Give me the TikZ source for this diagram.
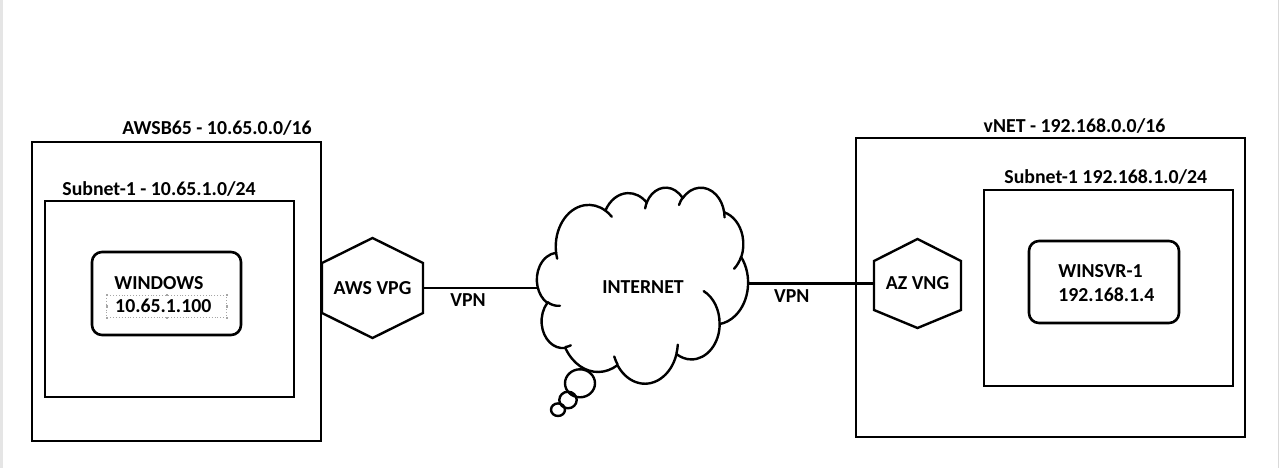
\documentclass[tikz,border=0pt]{standalone}
\usepackage{fontspec}
\setmainfont{Carlito}
\newcommand\labfont{\fontsize{19.8}{23}\selectfont\bfseries}
\begin{document}
\begin{tikzpicture}[x=1pt,y=-1pt,
  declare function={cvis(\p,\q,\r)=\p+mod(atan2(\q*sin(\p),\r*cos(\p))-\p+900,360)-180;},
  box/.style={draw, line width=2.8pt, inner sep=0pt, outer sep=0pt},
  rbox/.style={box, rounded corners=10pt, line width=2.6pt},
  hexnode/.style={inner sep=0pt, outer sep=0pt, font=\labfont},
  hexline/.style={line width=2.4pt, line join=miter},
  conn/.style={line width=2.2pt},
  lbl/.style={inner sep=0pt, outer sep=0pt, anchor=base, font=\labfont},
  cloudline/.style={line width=2.4pt, line join=round, line cap=round},
  selbox/.style={draw=black!35, dotted, line width=0.9pt},
  handle/.style={fill=black!35, inner sep=0pt, minimum size=2.4pt}]
\useasboundingbox (0,0) rectangle (1280,468);
\fill[white] (0,0) rectangle (1280,468);
\fill[black!10] (0,0) rectangle (3,468);
\draw[black!15, line width=1pt] (1278,0) -- (1278,468);

% left side
\node[box, minimum width=289pt, minimum height=299pt] (awsbox) at (176.5,291.5) {};
\node[lbl] (awstitle) at (217,135) {AWSB65 - 10.65.0.0/16};
\node[box, minimum width=249pt, minimum height=196pt] (awssub) at (169.5,299) {};
\node[lbl] (awssubtitle) at (159,195) {Subnet-1 - 10.65.1.0/24};
\node[rbox, minimum width=149pt, minimum height=83pt] (win) at (166.5,293.5) {};
\draw[selbox] (106.7,295) rectangle (226.7,317.7);
\foreach \hx/\hy [count=\i] in {106.7/295,166.7/295,226.7/295,106.7/306.3,226.7/306.3,106.7/317.7,166.7/317.7,226.7/317.7}
  \node[handle] (h\i) at (\hx,\hy) {};
\node[lbl] (wintext) at (159,289.3) {WINDOWS};
\node[lbl] (winip) at (163.3,312.7) {10.65.1.100};

\node[hexnode, minimum width=101pt, minimum height=100pt] (vpg) at (372.5,288) {AWS VPG};
\draw[hexline] (vpg.north) -- ([yshift=-25pt]vpg.north east) -- ([yshift=25pt]vpg.south east)
  -- (vpg.south) -- ([yshift=25pt]vpg.south west) -- ([yshift=-25pt]vpg.north west) -- cycle;

% cloud
\node[inner sep=0pt, outer sep=0pt, minimum width=211pt, minimum height=196pt] (inet) at (642.5,287) {};
\draw[cloudline] (580,383.3) ellipse[x radius=15, y radius=14];
\draw[cloudline] (568,400) ellipse[x radius=8.7, y radius=8.3];
\draw[cloudline] (558,409.7) ellipse[x radius=7, y radius=6.3];
\begin{scope}[shift={(537,187)}, x=0.48843pt, y=-0.45370pt]
\draw[cloudline, fill=white] (39.00,143.70)
 \foreach \cw/\ch/\cs/\cd in {
 67.53/91.90/-190.48748/123.78053,
 53.33/72.67/-144.10238/89.94523,
 43.65/59.45/-145.80792/99.72302,
 48.57/65.95/-130.98607/117.24173,
 53.33/72.73/-78.70888/109.02692,
 67.75/92.20/-46.26725/130.26900,
 57.85/78.67/0.62502/114.03333,
 67.52/92.15/22.45160/115.17255,
 77.20/105.43/66.24263/75.71102,
 43.60/59.18/-274.94208/146.73557,
 43.45/59.45/-246.82850/152.51885}
 { arc[x radius=\cw, y radius=\ch, start angle={cvis(\cs,\cw,\ch)}, end angle={cvis(\cs+\cd,\cw,\ch)}] } -- cycle;
\draw[cloudline] \foreach \cx/\cy/\cw/\ch/\cs/\cd in {
 46.93/261.77/43.45/59.45/86.74200/26.42950,
 69.28/348.99/43.60/59.18/73.61047/11.44747,
 164.78/390.90/67.52/92.15/137.62415/14.08110,
 288.27/347.51/67.52/92.15/6.45327/15.99835,
 341.29/229.54/57.85/78.67/-70.29235/70.91737,
 417.98/153.54/53.33/72.73/30.31803/27.75150,
 383.24/54.26/48.57/65.95/-13.74433/14.85890,
 290.78/39.52/48.57/65.95/-149.18145/18.19537,
 221.41/47.20/43.65/59.45/-163.49427/17.68635,
 140.00/51.92/67.53/91.90/-66.70695/12.31935,
 41.27/157.89/67.53/91.90/157.65435/11.85817}
 { (\cx,\cy) arc[x radius=\cw, y radius=\ch, start angle={cvis(\cs,\cw,\ch)}, end angle={cvis(\cs+\cd,\cw,\ch)}] };
\end{scope}
\node[lbl] (inettext) at (643,293.3) {INTERNET};

% right side
\node[box, minimum width=389pt, minimum height=299pt] (vnetbox) at (1050.5,287.5) {};
\node[lbl] (vnettitle) at (1074.5,132.7) {vNET - 192.168.0.0/16};
\node[box, minimum width=249pt, minimum height=196pt] (vnetsub) at (1108.5,288) {};
\node[lbl] (vnetsubtitle) at (1105.8,183.3) {Subnet-1 192.168.1.0/24};
\node[rbox, minimum width=150pt, minimum height=82pt] (winsvr) at (1104,282) {};
\node[lbl, anchor=base west] (wsname) at (1058.3,277.3) {WINSVR-1};
\node[lbl, anchor=base west] (wsip) at (1058.3,301.7) {192.168.1.4};

\node[hexnode, minimum width=87pt, minimum height=89pt, fill=white] (vng) at (917.5,283.5) {AZ VNG};
\draw[hexline] (vng.north) -- ([yshift=-22pt]vng.north east) -- ([yshift=18pt]vng.south east)
  -- (vng.south) -- ([yshift=18pt]vng.south west) -- ([yshift=-22pt]vng.north west) -- cycle;

% connectors
\draw[conn] (vpg.east) -- (vpg.east -| inet.west);
\draw[conn] (inet.east |- vng.west) -- (vng.west);
\node[lbl] (vpnl) at (468,306.7) {VPN};
\node[lbl] (vpnr) at (791.7,302.3) {VPN};
\end{tikzpicture}
\end{document}
